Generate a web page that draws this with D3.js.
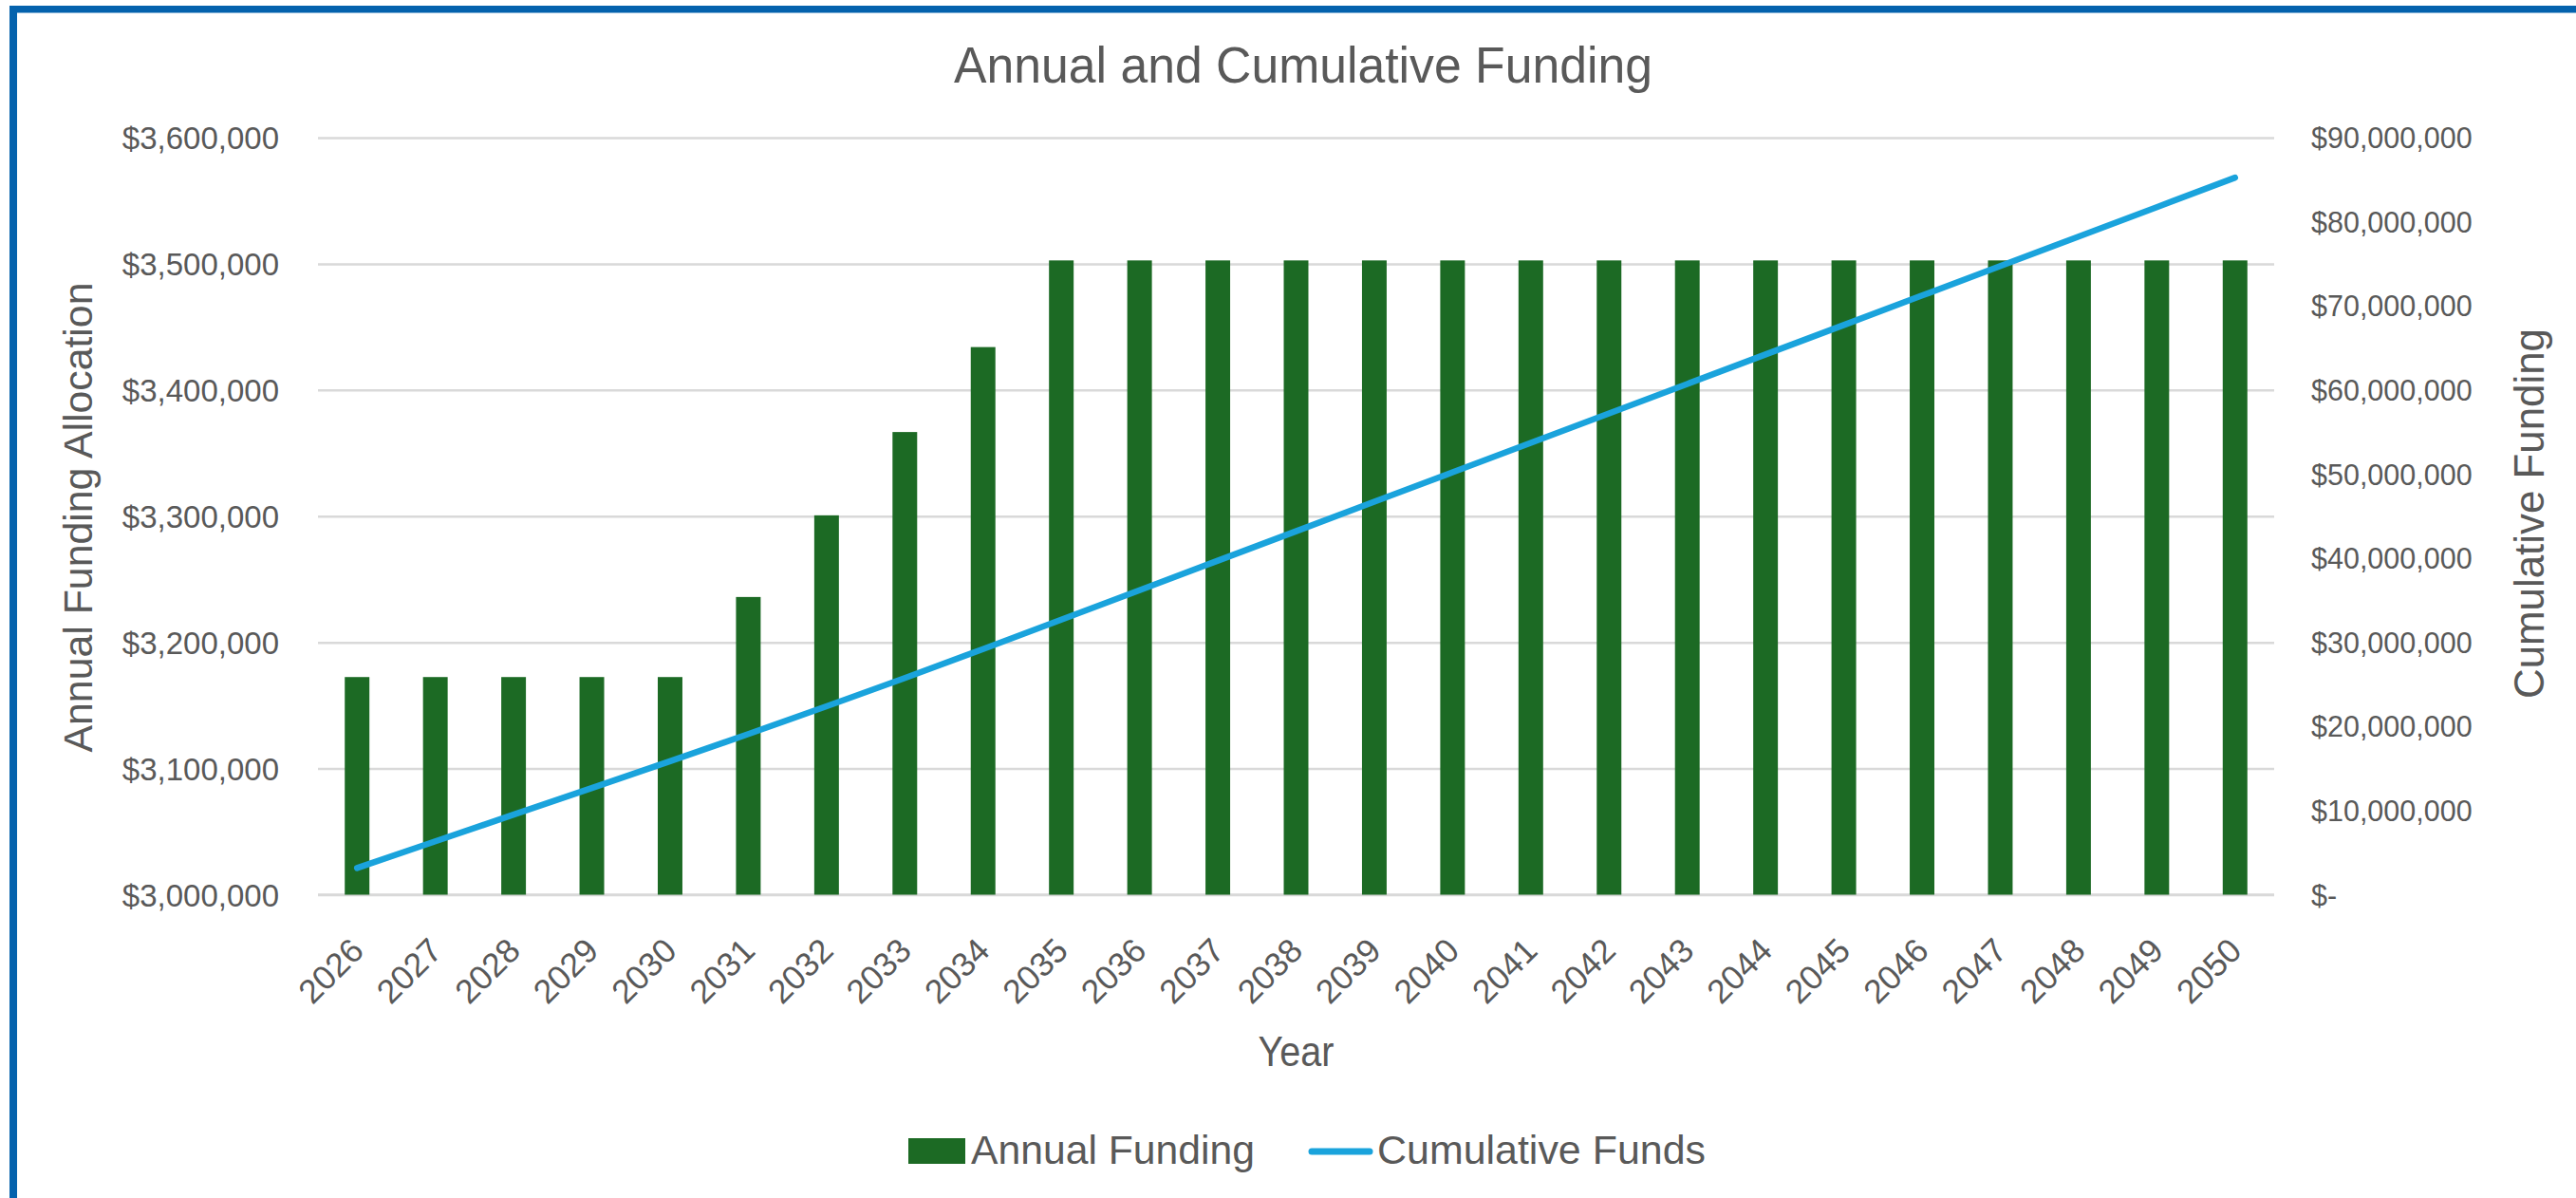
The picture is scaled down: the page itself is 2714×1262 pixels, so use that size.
<!DOCTYPE html>
<html>
<head>
<meta charset="utf-8">
<script src="https://cdn.jsdelivr.net/npm/d3@7"></script>
<style>
  html, body { margin: 0; padding: 0; background: #ffffff; }
  svg { display: block; }
</style>
</head>
<body>
<script>
// Funding schedule by year
const years = ["2026","2027","2028","2029","2030","2031","2032","2033","2034","2035",
               "2036","2037","2038","2039","2040","2041","2042","2043","2044","2045",
               "2046","2047","2048","2049","2050"];

const annualFunding = [3172500, 3172500, 3172500, 3172500, 3172500, 3235950, 3300669, 3366682,
                       3434016, 3502696, 3502696, 3502696, 3502696, 3502696, 3502696, 3502696,
                       3502696, 3502696, 3502696, 3502696, 3502696, 3502696, 3502696, 3502696,
                       3502696];

const cumulativeFunds = [3172500, 6345000, 9517500, 12690000, 15862500, 19098450, 22399119,
                         25765801, 29199817, 32702513, 36205209, 39707905, 43210601, 46713297,
                         50215993, 53718689, 57221385, 60724081, 64226777, 67729473, 71232169,
                         74734865, 78237561, 81740257, 85242953];

const leftTicks = [3000000, 3100000, 3200000, 3300000, 3400000, 3500000, 3600000];
const leftTickLabels = ["$3,000,000", "$3,100,000", "$3,200,000", "$3,300,000",
                        "$3,400,000", "$3,500,000", "$3,600,000"];

const rightTicks = [0, 10000000, 20000000, 30000000, 40000000, 50000000, 60000000, 70000000, 80000000, 90000000];
const rightTickLabels = ["$-", "$10,000,000", "$20,000,000", "$30,000,000", "$40,000,000",
                         "$50,000,000", "$60,000,000", "$70,000,000", "$80,000,000", "$90,000,000"];

const chartTitle = "Annual and Cumulative Funding";
const xTitle = "Year";
const yLeftTitle = "Annual Funding Allocation";
const yRightTitle = "Cumulative Funding";
const seriesNames = ["Annual Funding", "Cumulative Funds"];

// Layout
const W = 2714, H = 1262;
const plot = { left: 335, right: 2396, top: 145, bottom: 942.5 };
const TEXT = "#595959";
const GRID = "#d9d9d9";
const BAR = "#1c6a24";
const LINE = "#1aa3dc";
const FRAME = "#0462ad";
const FONT = "'Liberation Sans', Arial, sans-serif";

const svg = d3.select("body").append("svg")
  .attr("width", W).attr("height", H)
  .attr("viewBox", `0 0 ${W} ${H}`);

svg.append("rect").attr("width", W).attr("height", H).attr("fill", "#ffffff");

// Frame edges (top and left)
svg.append("rect").attr("x", 10).attr("y", 6).attr("width", W - 10).attr("height", 7.5).attr("fill", FRAME);
svg.append("rect").attr("x", 10).attr("y", 6).attr("width", 8).attr("height", H - 6).attr("fill", FRAME);

// Scales
const x = d3.scaleBand()
  .domain(years)
  .range([plot.left, plot.right])
  .paddingInner(0.685)
  .paddingOuter(0.685 / 2);

const yL = d3.scaleLinear().domain([3000000, 3600000]).range([plot.bottom, plot.top]);
const yR = d3.scaleLinear().domain([0, 90000000]).range([plot.bottom, plot.top]);

// Left axis with gridlines
const gLeft = svg.append("g")
  .attr("transform", `translate(${plot.left},0)`)
  .call(d3.axisLeft(yL)
    .tickValues(leftTicks)
    .tickSize(-(plot.right - plot.left))
    .tickPadding(41)
    .tickFormat((d, i) => leftTickLabels[i]));
gLeft.select(".domain").remove();
gLeft.selectAll(".tick line").attr("stroke", GRID).attr("stroke-width", 2.5);
gLeft.selectAll(".tick text")
  .attr("fill", TEXT)
  .attr("font-family", FONT)
  .attr("font-size", 33)
  .attr("dy", "0.35em");

// Right axis labels
const gRight = svg.append("g")
  .attr("transform", `translate(${plot.right},0)`)
  .call(d3.axisRight(yR)
    .tickValues(rightTicks)
    .tickSize(0)
    .tickPadding(39)
    .tickFormat((d, i) => rightTickLabels[i]));
gRight.select(".domain").remove();
gRight.selectAll(".tick text")
  .attr("fill", TEXT)
  .attr("font-family", FONT)
  .attr("font-size", 30.5)
  .attr("dy", "0.35em");

// Category axis with slanted year labels
const gBottom = svg.append("g")
  .attr("transform", `translate(0,${plot.bottom})`)
  .call(d3.axisBottom(x).tickSize(0));
gBottom.select(".domain").remove();
gBottom.selectAll(".tick text")
  .attr("fill", TEXT)
  .attr("font-family", FONT)
  .attr("font-size", 35.5)
  .attr("x", 0).attr("y", 0).attr("dy", 0)
  .attr("text-anchor", "end")
  .attr("transform", "translate(9,61) rotate(-45)");

// Baseline
svg.append("line")
  .attr("x1", plot.left).attr("x2", plot.right)
  .attr("y1", yL(3000000)).attr("y2", yL(3000000))
  .attr("stroke", GRID).attr("stroke-width", 2.5);

// Annual funding bars
const rows = years.map((y, i) => ({ year: y, annual: annualFunding[i], cumulative: cumulativeFunds[i] }));

svg.append("g").selectAll("rect")
  .data(rows)
  .join("rect")
  .attr("x", d => x(d.year))
  .attr("width", x.bandwidth())
  .attr("y", d => yL(d.annual))
  .attr("height", d => yL(3000000) - yL(d.annual))
  .attr("fill", BAR);

// Cumulative funds line
const line = d3.line()
  .x(d => x(d.year) + x.bandwidth() / 2)
  .y(d => yR(d.cumulative));

svg.append("path")
  .datum(rows)
  .attr("d", line)
  .attr("fill", "none")
  .attr("stroke", LINE)
  .attr("stroke-width", 6.5)
  .attr("stroke-linecap", "round")
  .attr("stroke-linejoin", "round");

// Titles
svg.append("text")
  .attr("x", 1373).attr("y", 87)
  .attr("text-anchor", "middle")
  .attr("font-family", FONT).attr("font-size", 53)
  .attr("fill", TEXT)
  .attr("textLength", 736).attr("lengthAdjust", "spacingAndGlyphs")
  .text(chartTitle);

svg.append("text")
  .attr("x", (plot.left + plot.right) / 2).attr("y", 1123)
  .attr("text-anchor", "middle")
  .attr("font-family", FONT).attr("font-size", 44)
  .attr("fill", TEXT)
  .attr("textLength", 80).attr("lengthAdjust", "spacingAndGlyphs")
  .text(xTitle);

svg.append("text")
  .attr("transform", `translate(97,545) rotate(-90)`)
  .attr("text-anchor", "middle")
  .attr("font-family", FONT).attr("font-size", 43)
  .attr("fill", TEXT)
  .attr("textLength", 495).attr("lengthAdjust", "spacingAndGlyphs")
  .text(yLeftTitle);

svg.append("text")
  .attr("transform", `translate(2680,541) rotate(-90)`)
  .attr("text-anchor", "middle")
  .attr("font-family", FONT).attr("font-size", 44)
  .attr("fill", TEXT)
  .attr("textLength", 390).attr("lengthAdjust", "spacingAndGlyphs")
  .text(yRightTitle);

// Legend
const legend = svg.append("g");
legend.append("rect")
  .attr("x", 957).attr("y", 1199).attr("width", 60).attr("height", 27)
  .attr("fill", BAR);
legend.append("text")
  .attr("x", 1023).attr("y", 1226)
  .attr("font-family", FONT).attr("font-size", 43)
  .attr("fill", TEXT)
  .attr("textLength", 299).attr("lengthAdjust", "spacingAndGlyphs")
  .text(seriesNames[0]);
legend.append("line")
  .attr("x1", 1382).attr("x2", 1443).attr("y1", 1213).attr("y2", 1213)
  .attr("stroke", LINE).attr("stroke-width", 7).attr("stroke-linecap", "round");
legend.append("text")
  .attr("x", 1451).attr("y", 1226)
  .attr("font-family", FONT).attr("font-size", 43)
  .attr("fill", TEXT)
  .attr("textLength", 346).attr("lengthAdjust", "spacingAndGlyphs")
  .text(seriesNames[1]);
</script>
</body>
</html>
